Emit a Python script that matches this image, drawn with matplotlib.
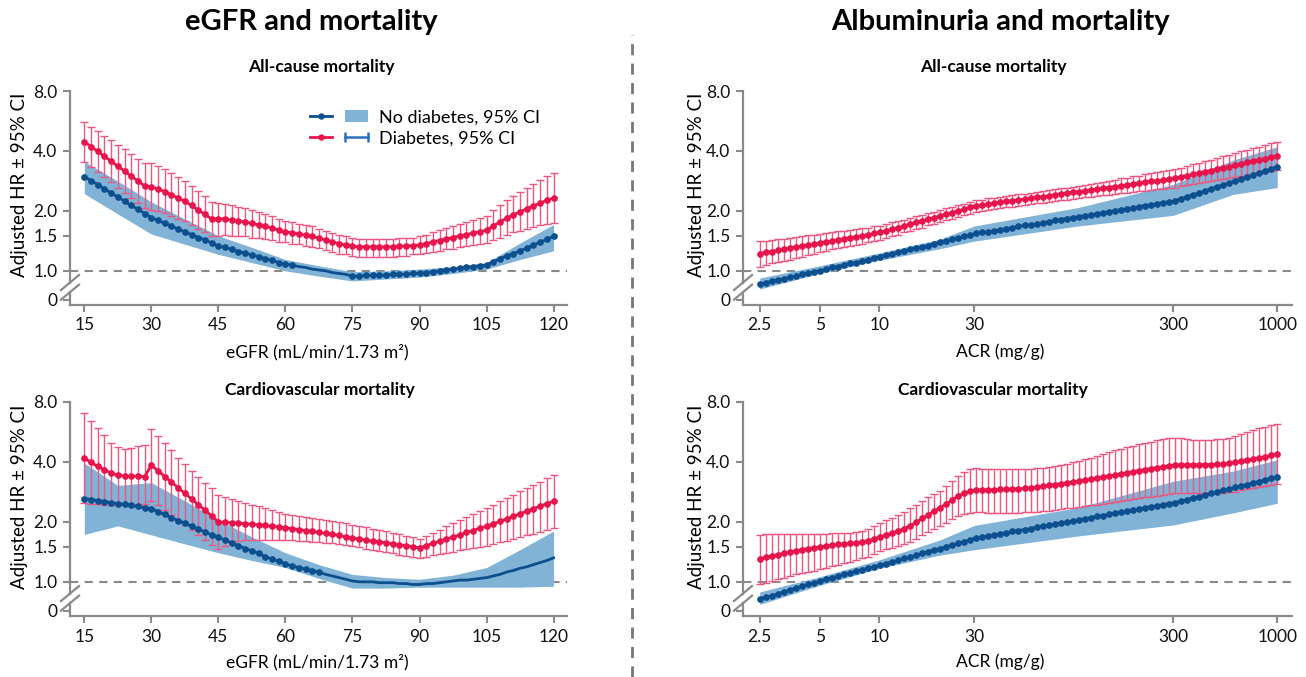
import numpy as np
import matplotlib
matplotlib.use('Agg')
import matplotlib.pyplot as plt
from matplotlib.lines import Line2D
from matplotlib.patches import Patch
from matplotlib.legend_handler import HandlerTuple, HandlerLine2D
from matplotlib.ticker import NullLocator

plt.rcParams['font.family'] = ['Lato', 'DejaVu Sans']

# ---- данные: eGFR (шаг 1.5) ----
egfr = np.arange(15, 121, 1.5)
egfr_knots = [15, 22.5, 30, 37.5, 45, 52.5, 60, 67.5, 75, 82.5, 90, 97.5, 105, 112.5, 120]

# все причины смерти, eGFR
allc_egfr_nd = [2.97, 2.84, 2.71, 2.58, 2.46, 2.35, 2.24, 2.13, 2.04, 1.94, 1.85,
                1.79, 1.73, 1.68, 1.62, 1.57, 1.52, 1.47, 1.43, 1.38, 1.33,
                1.31, 1.28, 1.25, 1.23, 1.20, 1.18, 1.15, 1.13, 1.10, 1.08,
                1.07, 1.05, 1.04, 1.02, 1.01, 1.00, 0.98, 0.97, 0.96, 0.94,
                0.94, 0.95, 0.95, 0.95, 0.95, 0.96, 0.96, 0.96, 0.97, 0.97,
                0.98, 0.99, 1.00, 1.01, 1.02, 1.03, 1.04, 1.05, 1.06, 1.07,
                1.11, 1.15, 1.19, 1.22, 1.26, 1.30, 1.35, 1.39, 1.44, 1.49]
allc_egfr_nd_hi = [3.54, 2.82, 2.22, 1.82, 1.50, 1.31, 1.14, 1.06, 0.99, 1.00, 1.02, 1.05, 1.10, 1.38, 1.71]
allc_egfr_nd_lo = [2.44, 1.93, 1.53, 1.36, 1.21, 1.10, 1.00, 0.94, 0.89, 0.91, 0.93, 0.97, 1.02, 1.14, 1.26]
allc_egfr_dm = [4.46, 4.21, 3.98, 3.76, 3.55, 3.35, 3.17, 2.99, 2.83, 2.67, 2.64,
                2.58, 2.50, 2.41, 2.32, 2.23, 2.13, 2.02, 1.92, 1.82, 1.83,
                1.82, 1.80, 1.78, 1.76, 1.73, 1.70, 1.67, 1.64, 1.60, 1.57,
                1.55, 1.53, 1.51, 1.49, 1.46, 1.43, 1.40, 1.37, 1.35, 1.33,
                1.32, 1.32, 1.32, 1.32, 1.32, 1.32, 1.33, 1.33, 1.34, 1.35,
                1.37, 1.40, 1.42, 1.45, 1.47, 1.50, 1.52, 1.55, 1.57, 1.60,
                1.68, 1.76, 1.84, 1.91, 1.98, 2.05, 2.12, 2.19, 2.26, 2.32]
allc_egfr_dm_hi = [5.60, 5.30, 5.03, 4.78, 4.53, 4.29, 4.07, 3.86, 3.66, 3.47, 3.46,
                   3.35, 3.24, 3.11, 2.97, 2.83, 2.68, 2.53, 2.38, 2.22, 2.20,
                   2.17, 2.13, 2.10, 2.06, 2.02, 1.97, 1.92, 1.88, 1.82, 1.77,
                   1.75, 1.72, 1.69, 1.67, 1.63, 1.59, 1.55, 1.52, 1.49, 1.46,
                   1.45, 1.45, 1.45, 1.45, 1.45, 1.45, 1.46, 1.46, 1.47, 1.49,
                   1.52, 1.56, 1.60, 1.64, 1.68, 1.72, 1.76, 1.80, 1.84, 1.89,
                   2.01, 2.13, 2.26, 2.38, 2.49, 2.62, 2.74, 2.86, 2.99, 3.11]
allc_egfr_dm_lo = [3.52, 3.32, 3.13, 2.95, 2.78, 2.61, 2.47, 2.32, 2.19, 2.06, 2.03,
                   2.00, 1.95, 1.89, 1.83, 1.77, 1.70, 1.63, 1.56, 1.49, 1.50,
                   1.51, 1.50, 1.50, 1.49, 1.47, 1.46, 1.44, 1.43, 1.40, 1.39,
                   1.37, 1.36, 1.34, 1.32, 1.30, 1.27, 1.25, 1.22, 1.21, 1.19,
                   1.18, 1.18, 1.18, 1.18, 1.18, 1.18, 1.19, 1.19, 1.21, 1.22,
                   1.23, 1.25, 1.26, 1.28, 1.29, 1.31, 1.33, 1.35, 1.36, 1.38,
                   1.43, 1.47, 1.52, 1.56, 1.59, 1.63, 1.66, 1.69, 1.72, 1.74]

# сердечно-сосудистая смертность, eGFR
cv_egfr_nd = [2.62, 2.59, 2.56, 2.53, 2.50, 2.47, 2.45, 2.42, 2.39, 2.36, 2.33,
              2.25, 2.18, 2.10, 2.03, 1.97, 1.90, 1.84, 1.78, 1.72, 1.67,
              1.62, 1.57, 1.52, 1.47, 1.43, 1.39, 1.34, 1.30, 1.27, 1.23,
              1.20, 1.18, 1.16, 1.14, 1.12, 1.09, 1.07, 1.05, 1.03, 1.01,
              1.00, 1.00, 1.00, 0.99, 0.99, 0.99, 0.98, 0.98, 0.97, 0.97,
              0.98, 0.98, 0.99, 1.00, 1.01, 1.02, 1.02, 1.03, 1.04, 1.05,
              1.07, 1.09, 1.12, 1.14, 1.17, 1.19, 1.22, 1.25, 1.28, 1.32]
cv_egfr_nd_hi = [3.95, 3.05, 3.15, 2.55, 2.05, 1.68, 1.40, 1.22, 1.09, 1.05, 1.03, 1.08, 1.18, 1.45, 1.80]
cv_egfr_nd_lo = [1.73, 1.91, 1.72, 1.55, 1.40, 1.28, 1.18, 1.04, 0.93, 0.93, 0.94, 0.94, 0.94, 0.94, 0.95]
cv_egfr_dm = [4.18, 3.98, 3.80, 3.65, 3.52, 3.43, 3.40, 3.39, 3.39, 3.37, 3.85,
              3.61, 3.38, 3.17, 2.97, 2.78, 2.61, 2.44, 2.29, 2.14, 2.00,
              1.99, 1.98, 1.97, 1.96, 1.95, 1.93, 1.92, 1.90, 1.89, 1.87,
              1.85, 1.83, 1.81, 1.79, 1.77, 1.75, 1.73, 1.71, 1.68, 1.66,
              1.64, 1.62, 1.60, 1.59, 1.57, 1.55, 1.53, 1.52, 1.50, 1.48,
              1.52, 1.56, 1.60, 1.64, 1.68, 1.72, 1.77, 1.81, 1.86, 1.90,
              1.96, 2.01, 2.07, 2.13, 2.20, 2.26, 2.33, 2.40, 2.47, 2.54]
cv_egfr_dm_hi = [7.02, 6.45, 5.95, 5.45, 5.00, 4.75, 4.63, 4.70, 4.82, 4.87, 5.83,
                 5.40, 5.00, 4.60, 4.20, 3.90, 3.60, 3.35, 3.15, 2.95, 2.74,
                 2.68, 2.62, 2.56, 2.50, 2.44, 2.39, 2.34, 2.29, 2.24, 2.18,
                 2.16, 2.14, 2.12, 2.09, 2.07, 2.04, 2.02, 1.99, 1.97, 1.94,
                 1.91, 1.88, 1.85, 1.82, 1.79, 1.76, 1.73, 1.70, 1.67, 1.64,
                 1.70, 1.76, 1.83, 1.90, 1.97, 2.04, 2.11, 2.19, 2.27, 2.35,
                 2.44, 2.54, 2.64, 2.74, 2.85, 2.96, 3.07, 3.19, 3.32, 3.45]
cv_egfr_dm_lo = [2.50, 2.47, 2.45, 2.44, 2.43, 2.43, 2.43, 2.44, 2.45, 2.45, 2.55,
                 2.42, 2.29, 2.16, 2.04, 1.93, 1.82, 1.72, 1.62, 1.53, 1.46,
                 1.52, 1.57, 1.60, 1.62, 1.63, 1.63, 1.63, 1.63, 1.63, 1.63,
                 1.62, 1.61, 1.60, 1.59, 1.58, 1.57, 1.56, 1.54, 1.53, 1.51,
                 1.49, 1.47, 1.45, 1.43, 1.41, 1.39, 1.37, 1.35, 1.34, 1.32,
                 1.34, 1.36, 1.38, 1.40, 1.42, 1.44, 1.46, 1.48, 1.49, 1.51,
                 1.54, 1.58, 1.61, 1.64, 1.68, 1.71, 1.74, 1.78, 1.82, 1.87]

# ---- данные: ACR (логарифмическая сетка) ----
acr = np.geomspace(2.5, 1000, 87)
acr_knots = [2.5, 5, 10, 20, 30, 100, 300, 600, 1000]

allc_acr_nd = [0.86, 0.87, 0.89, 0.90, 0.91, 0.93, 0.94, 0.96, 0.97, 0.99,
               1.00, 1.02, 1.04, 1.05, 1.07, 1.09, 1.10, 1.12, 1.14, 1.16,
               1.18, 1.20, 1.22, 1.24, 1.26, 1.28, 1.30, 1.32, 1.34, 1.37,
               1.39, 1.41, 1.44, 1.46, 1.49, 1.51, 1.54, 1.56, 1.57, 1.59,
               1.61, 1.63, 1.65, 1.67, 1.69, 1.70, 1.72, 1.74, 1.76, 1.79,
               1.81, 1.83, 1.85, 1.87, 1.89, 1.91, 1.93, 1.96, 1.98, 2.00,
               2.03, 2.05, 2.07, 2.10, 2.12, 2.15, 2.17, 2.20, 2.22, 2.25,
               2.30, 2.35, 2.41, 2.46, 2.52, 2.58, 2.64, 2.70, 2.76, 2.83,
               2.90, 2.96, 3.03, 3.10, 3.18, 3.25, 3.33]
allc_acr_nd_hi = [0.92, 1.06, 1.23, 1.44, 1.68, 2.08, 2.72, 3.60, 4.20]
allc_acr_nd_lo = [0.81, 0.97, 1.13, 1.29, 1.41, 1.68, 1.90, 2.42, 2.62]
allc_acr_dm = [1.22, 1.24, 1.25, 1.27, 1.28, 1.30, 1.32, 1.33, 1.35, 1.36,
               1.38, 1.40, 1.41, 1.43, 1.45, 1.47, 1.48, 1.50, 1.52, 1.54,
               1.56, 1.59, 1.62, 1.65, 1.68, 1.72, 1.75, 1.78, 1.82, 1.85,
               1.89, 1.93, 1.96, 2.00, 2.04, 2.08, 2.12, 2.14, 2.16, 2.18,
               2.21, 2.23, 2.25, 2.27, 2.29, 2.31, 2.34, 2.36, 2.38, 2.41,
               2.43, 2.45, 2.48, 2.50, 2.52, 2.55, 2.57, 2.60, 2.62, 2.65,
               2.67, 2.70, 2.73, 2.75, 2.78, 2.81, 2.83, 2.86, 2.89, 2.92,
               2.96, 3.01, 3.05, 3.10, 3.15, 3.19, 3.24, 3.29, 3.34, 3.39,
               3.45, 3.50, 3.55, 3.61, 3.66, 3.72, 3.78]
allc_acr_dm_hi = [1.41, 1.42, 1.43, 1.44, 1.45, 1.47, 1.48, 1.49, 1.51, 1.52,
                  1.53, 1.55, 1.56, 1.58, 1.59, 1.61, 1.62, 1.64, 1.65, 1.67,
                  1.68, 1.71, 1.75, 1.78, 1.81, 1.84, 1.88, 1.91, 1.95, 1.98,
                  2.02, 2.06, 2.10, 2.14, 2.17, 2.22, 2.26, 2.28, 2.31, 2.33,
                  2.35, 2.38, 2.40, 2.42, 2.44, 2.47, 2.49, 2.52, 2.55, 2.57,
                  2.60, 2.62, 2.65, 2.67, 2.71, 2.74, 2.77, 2.80, 2.84, 2.87,
                  2.91, 2.94, 2.98, 3.01, 3.05, 3.09, 3.12, 3.16, 3.20, 3.24,
                  3.30, 3.36, 3.42, 3.49, 3.56, 3.62, 3.69, 3.76, 3.83, 3.91,
                  3.98, 4.06, 4.13, 4.21, 4.29, 4.37, 4.46]
allc_acr_dm_lo = [1.05, 1.07, 1.09, 1.11, 1.12, 1.14, 1.16, 1.18, 1.20, 1.22,
                  1.24, 1.26, 1.28, 1.30, 1.32, 1.33, 1.35, 1.37, 1.39, 1.41,
                  1.43, 1.46, 1.49, 1.52, 1.56, 1.59, 1.62, 1.65, 1.69, 1.72,
                  1.76, 1.79, 1.83, 1.87, 1.91, 1.94, 1.98, 2.00, 2.02, 2.04,
                  2.06, 2.08, 2.10, 2.12, 2.14, 2.16, 2.18, 2.20, 2.22, 2.24,
                  2.26, 2.28, 2.30, 2.32, 2.34, 2.36, 2.38, 2.39, 2.41, 2.43,
                  2.45, 2.47, 2.49, 2.51, 2.53, 2.55, 2.57, 2.59, 2.60, 2.62,
                  2.66, 2.69, 2.72, 2.75, 2.79, 2.82, 2.85, 2.88, 2.92, 2.96,
                  2.99, 3.03, 3.06, 3.10, 3.14, 3.17, 3.21]

cv_acr_nd = [0.82, 0.84, 0.85, 0.87, 0.89, 0.91, 0.93, 0.95, 0.97, 0.99,
             1.01, 1.03, 1.05, 1.07, 1.09, 1.11, 1.13, 1.15, 1.17, 1.19,
             1.21, 1.23, 1.26, 1.28, 1.31, 1.33, 1.36, 1.39, 1.42, 1.45,
             1.47, 1.50, 1.53, 1.56, 1.59, 1.63, 1.66, 1.68, 1.70, 1.72,
             1.74, 1.76, 1.79, 1.81, 1.83, 1.85, 1.88, 1.90, 1.92, 1.95,
             1.97, 2.00, 2.02, 2.05, 2.07, 2.10, 2.13, 2.15, 2.18, 2.21,
             2.23, 2.26, 2.29, 2.32, 2.35, 2.38, 2.41, 2.44, 2.47, 2.50,
             2.54, 2.59, 2.64, 2.68, 2.73, 2.78, 2.83, 2.88, 2.93, 2.98,
             3.03, 3.08, 3.14, 3.19, 3.25, 3.31, 3.36]
cv_acr_nd_hi = [0.89, 1.06, 1.29, 1.62, 1.92, 2.36, 3.20, 3.60, 4.10]
cv_acr_nd_lo = [0.77, 0.96, 1.17, 1.36, 1.45, 1.70, 1.93, 2.22, 2.48]
cv_acr_dm = [1.30, 1.33, 1.35, 1.37, 1.39, 1.41, 1.43, 1.45, 1.47, 1.48,
             1.50, 1.51, 1.53, 1.54, 1.55, 1.56, 1.57, 1.59, 1.61, 1.64,
             1.68, 1.72, 1.76, 1.80, 1.85, 1.91, 1.99, 2.08, 2.17, 2.27,
             2.36, 2.46, 2.58, 2.70, 2.80, 2.86, 2.89, 2.90, 2.90, 2.90,
             2.91, 2.91, 2.92, 2.93, 2.95, 2.97, 2.99, 3.02, 3.05, 3.08,
             3.11, 3.14, 3.17, 3.20, 3.24, 3.28, 3.32, 3.36, 3.40, 3.44,
             3.49, 3.53, 3.57, 3.62, 3.66, 3.70, 3.74, 3.78, 3.82, 3.86,
             3.87, 3.87, 3.87, 3.87, 3.88, 3.88, 3.89, 3.91, 3.94, 3.98,
             4.03, 4.08, 4.14, 4.19, 4.25, 4.31, 4.37]
cv_acr_dm_hi = [1.72, 1.73, 1.73, 1.74, 1.74, 1.74, 1.74, 1.74, 1.74, 1.74,
                1.74, 1.74, 1.75, 1.75, 1.75, 1.75, 1.77, 1.80, 1.84, 1.90,
                1.98, 2.04, 2.10, 2.17, 2.25, 2.34, 2.44, 2.55, 2.66, 2.76,
                2.86, 3.02, 3.20, 3.40, 3.58, 3.68, 3.72, 3.70, 3.69, 3.68,
                3.68, 3.68, 3.69, 3.69, 3.69, 3.70, 3.71, 3.72, 3.76, 3.81,
                3.86, 3.92, 3.98, 4.05, 4.13, 4.21, 4.30, 4.39, 4.48, 4.57,
                4.66, 4.74, 4.82, 4.90, 4.98, 5.06, 5.13, 5.20, 5.26, 5.30,
                5.25, 5.20, 5.18, 5.17, 5.17, 5.18, 5.20, 5.24, 5.30, 5.40,
                5.52, 5.65, 5.78, 5.90, 6.02, 6.13, 6.23]
cv_acr_dm_lo = [0.97, 0.99, 1.01, 1.03, 1.05, 1.07, 1.09, 1.11, 1.12, 1.14,
                1.16, 1.17, 1.20, 1.22, 1.24, 1.26, 1.28, 1.31, 1.34, 1.38,
                1.43, 1.46, 1.48, 1.51, 1.54, 1.59, 1.64, 1.71, 1.78, 1.85,
                1.91, 1.98, 2.06, 2.13, 2.19, 2.22, 2.23, 2.23, 2.22, 2.22,
                2.22, 2.21, 2.22, 2.22, 2.23, 2.24, 2.25, 2.27, 2.28, 2.30,
                2.32, 2.34, 2.35, 2.37, 2.39, 2.42, 2.44, 2.47, 2.50, 2.52,
                2.55, 2.58, 2.60, 2.63, 2.66, 2.68, 2.71, 2.73, 2.75, 2.78,
                2.78, 2.78, 2.78, 2.78, 2.78, 2.78, 2.79, 2.80, 2.82, 2.84,
                2.88, 2.91, 2.95, 2.98, 3.02, 3.06, 3.10]

# подписи осей
ytick_vals = [0.716, 1.0, 1.5, 2.0, 4.0, 8.0]
ytick_labels = ['0', '1.0', '1.5', '2.0', '4.0', '8.0']
egfr_ticks = [15, 30, 45, 60, 75, 90, 105, 120]
acr_ticks = [2.5, 5, 10, 30, 300, 1000]
acr_tick_labels = ['2.5', '5', '10', '30', '300', '1000']

# цвета
BLUE = '#0b4f8f'
BAND = '#80b3d6'
PINK = '#e8144c'
PINK_ERR = '#ee5580'
GRAY = '#8a8a8a'


def style_axes(ax, width_px):
    ax.set_yscale('log', base=2)
    ax.set_ylim(2 ** -0.57, 8)
    ax.set_yticks(ytick_vals)
    ax.set_yticklabels(ytick_labels)
    ax.yaxis.set_minor_locator(NullLocator())
    for s in ('top', 'right', 'left'):
        ax.spines[s].set_visible(False)
    ax.spines['bottom'].set_color(GRAY)
    ax.spines['bottom'].set_linewidth(1.6)
    ax.tick_params(axis='both', which='major', color=GRAY, labelcolor='#111111',
                   width=1.5, length=5, labelsize=12.5, pad=4)
    ax.axhline(1.0, color=GRAY, ls=(0, (4, 3)), lw=1.5, zorder=1)
    # левая ось с разрывом
    kw = dict(transform=ax.transAxes, color=GRAY, lw=1.6, clip_on=False)
    ax.plot([0, 0], [0.105, 1], **kw)
    ax.plot([0, 0], [0, 0.06], **kw)
    dx = 9 / width_px
    for yb in (0.060, 0.105):
        ax.plot([-dx, dx], [yb - 0.035, yb + 0.035], **kw)


def draw_panel(ax, x, nd, knots, nd_lo, nd_hi, dm, dm_lo, dm_hi, nd_marks):
    dm = np.array(dm)
    ax.fill_between(knots, nd_lo, nd_hi, color=BAND, lw=0, zorder=2)
    ax.errorbar(x, dm, yerr=[dm - np.array(dm_lo), np.array(dm_hi) - dm], fmt='none',
                ecolor=PINK_ERR, elinewidth=1.0, capsize=2.8, capthick=1.0, zorder=3)
    ax.plot(x, nd, color=BLUE, lw=2, marker='o', ms=3.8, markevery=nd_marks, zorder=4)
    ax.plot(x, dm, color=PINK, lw=2, marker='o', ms=3.8, zorder=5)


fig = plt.figure(figsize=(13.06, 6.77), dpi=100)

left_w = (567 - 70) / 1306
right_w = (1292 - 743) / 1306
h = 214 / 677
ax_tl = fig.add_axes([70 / 1306, 1 - 305 / 677, left_w, h])
ax_bl = fig.add_axes([70 / 1306, 1 - 616 / 677, left_w, h])
ax_tr = fig.add_axes([743 / 1306, 1 - 305 / 677, right_w, h])
ax_br = fig.add_axes([743 / 1306, 1 - 616 / 677, right_w, h])

tl_marks = list(range(0, 32)) + list(range(40, 71))
bl_marks = list(range(0, 36))
draw_panel(ax_tl, egfr, allc_egfr_nd, egfr_knots, allc_egfr_nd_lo, allc_egfr_nd_hi,
           allc_egfr_dm, allc_egfr_dm_lo, allc_egfr_dm_hi, tl_marks)
draw_panel(ax_bl, egfr, cv_egfr_nd, egfr_knots, cv_egfr_nd_lo, cv_egfr_nd_hi,
           cv_egfr_dm, cv_egfr_dm_lo, cv_egfr_dm_hi, bl_marks)
draw_panel(ax_tr, acr, allc_acr_nd, acr_knots, allc_acr_nd_lo, allc_acr_nd_hi,
           allc_acr_dm, allc_acr_dm_lo, allc_acr_dm_hi, None)
draw_panel(ax_br, acr, cv_acr_nd, acr_knots, cv_acr_nd_lo, cv_acr_nd_hi,
           cv_acr_dm, cv_acr_dm_lo, cv_acr_dm_hi, None)

for ax in (ax_tl, ax_bl):
    style_axes(ax, 497)
    ax.set_xlim(11.8, 123)
    ax.set_xticks(egfr_ticks)
for ax in (ax_tr, ax_br):
    style_axes(ax, 549)
    ax.set_xscale('log')
    ax.set_xlim(2.06, 1186)
    ax.set_xticks(acr_ticks)
    ax.set_xticklabels(acr_tick_labels)
    ax.xaxis.set_minor_locator(NullLocator())

# легенда
err_handle = Line2D([], [], color='#2a6fc4', lw=1.8, marker='|', ms=7, mew=1.8)
h_nd = (Line2D([], [], color=BLUE, lw=2, marker='o', ms=3.6), Patch(facecolor=BAND, edgecolor='none'))
h_dm = (Line2D([], [], color=PINK, lw=2, marker='o', ms=3.6), err_handle)
ax_tl.legend([h_nd, h_dm], ['No diabetes, 95% CI', 'Diabetes, 95% CI'],
             handler_map={tuple: HandlerTuple(ndivide=None, pad=0.7),
                          err_handle: HandlerLine2D(numpoints=2, marker_pad=0.0)},
             loc='upper left', bbox_to_anchor=(0.45, 0.99), frameon=False, fontsize=13,
             handlelength=3.2, handletextpad=0.6, labelspacing=0.3)

# заголовки и подписи
fig.text(311 / 1306, 1 - 22 / 677, 'eGFR and mortality', ha='center', va='center',
         fontsize=21, fontweight='bold')
fig.text(1000 / 1306, 1 - 22 / 677, 'Albuminuria and mortality', ha='center', va='center',
         fontsize=21, fontweight='bold')
for xc, yc, t in [(321, 67, 'All-cause mortality'), (993, 67, 'All-cause mortality'),
                  (320, 390, 'Cardiovascular mortality'), (993, 390, 'Cardiovascular mortality')]:
    fig.text(xc / 1306, 1 - yc / 677, t, ha='center', va='center', fontsize=12.5, fontweight='bold')
for xc, yc, t in [(317, 352, 'eGFR (mL/min/1.73 m\u00b2)'), (1000, 352, 'ACR (mg/g)'),
                  (317, 662, 'eGFR (mL/min/1.73 m\u00b2)'), (1000, 662, 'ACR (mg/g)')]:
    fig.text(xc / 1306, 1 - yc / 677, t, ha='center', va='center', fontsize=12.5)
for xc, yc in [(20, 185), (20, 497), (697, 185), (697, 497)]:
    fig.text(xc / 1306, 1 - yc / 677, 'Adjusted HR \u00b1 95% CI', ha='center', va='center',
             rotation=90, fontsize=13.5)

# разделитель
fig.add_artist(Line2D([632 / 1306, 632 / 1306], [0, 1 - 35 / 677], color='#777777',
                      lw=2, ls=(0, (4, 3))))

fig.savefig('out.png', dpi=100)
